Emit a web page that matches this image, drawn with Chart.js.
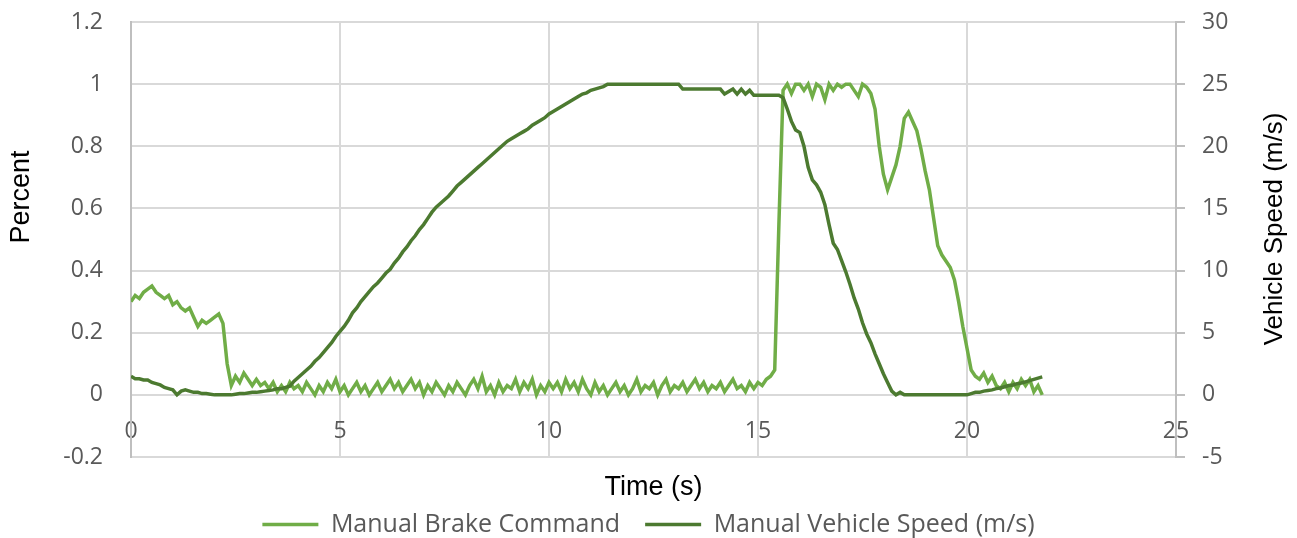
<!DOCTYPE html>
<html>
<head>
<meta charset="utf-8">
<title>Manual brake command and vehicle speed</title>
<script src="https://cdn.jsdelivr.net/npm/chart.js@4.4.0/dist/chart.umd.min.js"></script>
<style>
    html, body { margin: 0; padding: 0; background: #fff; }
    #wrap { width: 1297px; height: 538px; }
</style>
</head>
<body>
<div id="wrap"><canvas id="myChart"></canvas></div>
<script>
// samples every 0.1 s, starting at t = 0
var sampleStep = 0.1;

// Manual Brake Command (percent, left axis), one row per second
var brakeCommand = [
    0.30, 0.32, 0.31, 0.33, 0.34, 0.35, 0.33, 0.32, 0.31, 0.32,
    0.29, 0.30, 0.28, 0.27, 0.28, 0.25, 0.22, 0.24, 0.23, 0.24,
    0.25, 0.26, 0.23, 0.10, 0.03, 0.06, 0.04, 0.07, 0.05, 0.03,
    0.05, 0.03, 0.04, 0.02, 0.04, 0.01, 0.03, 0.01, 0.04, 0.02,
    0.03, 0.01, 0.04, 0.02, 0.00, 0.03, 0.01, 0.04, 0.02, 0.05,
    0.01, 0.03, 0.00, 0.02, 0.04, 0.01, 0.03, 0.00, 0.02, 0.04,
    0.01, 0.03, 0.05, 0.02, 0.04, 0.01, 0.03, 0.05, 0.02, 0.04,
    0.00, 0.03, 0.01, 0.04, 0.02, 0.00, 0.03, 0.01, 0.04, 0.02,
    0.00, 0.03, 0.05, 0.02, 0.06, 0.01, 0.03, 0.00, 0.04, 0.01,
    0.03, 0.02, 0.05, 0.01, 0.04, 0.02, 0.05, 0.00, 0.03, 0.01,
    0.04, 0.02, 0.04, 0.01, 0.05, 0.02, 0.04, 0.01, 0.05, 0.02,
    0.00, 0.04, 0.01, 0.03, 0.00, 0.02, 0.04, 0.01, 0.03, 0.00,
    0.02, 0.05, 0.01, 0.03, 0.02, 0.04, 0.00, 0.03, 0.05, 0.01,
    0.03, 0.02, 0.04, 0.01, 0.03, 0.05, 0.02, 0.04, 0.01, 0.03,
    0.02, 0.04, 0.01, 0.03, 0.05, 0.02, 0.03, 0.01, 0.04, 0.02,
    0.04, 0.03, 0.05, 0.06, 0.08, 0.55, 0.98, 1.00, 0.97, 1.00,
    1.00, 0.98, 1.00, 0.96, 1.00, 0.99, 0.95, 1.00, 0.98, 1.00,
    0.99, 1.00, 1.00, 0.98, 0.96, 1.00, 0.99, 0.97, 0.92, 0.80,
    0.71, 0.66, 0.70, 0.74, 0.80, 0.89, 0.91, 0.88, 0.85, 0.79,
    0.72, 0.66, 0.57, 0.48, 0.45, 0.43, 0.41, 0.37, 0.30, 0.22,
    0.15, 0.08, 0.06, 0.05, 0.07, 0.04, 0.06, 0.03, 0.02, 0.04,
    0.01, 0.04, 0.02, 0.05, 0.03, 0.05, 0.01, 0.03, 0.00
];

// Manual Vehicle Speed (m/s, right axis), one row per second
var vehicleSpeed = [
    1.5, 1.3, 1.3, 1.2, 1.2, 1.0, 0.9, 0.8, 0.6, 0.5,
    0.4, 0.0, 0.3, 0.4, 0.3, 0.2, 0.2, 0.1, 0.1, 0.05,
    0.0, 0.0, 0.0, 0.0, 0.0, 0.05, 0.1, 0.1, 0.15, 0.2,
    0.2, 0.25, 0.3, 0.35, 0.4, 0.5, 0.5, 0.6, 0.7, 1.1,
    1.4, 1.7, 2.0, 2.3, 2.7, 3.0, 3.4, 3.8, 4.2, 4.7,
    5.1, 5.5, 6.0, 6.6, 7.0, 7.5, 7.9, 8.3, 8.7, 9.0,
    9.4, 9.8, 10.1, 10.6, 11.0, 11.5, 11.9, 12.4, 12.8, 13.3,
    13.7, 14.2, 14.7, 15.1, 15.4, 15.7, 16.0, 16.4, 16.8, 17.1,
    17.4, 17.7, 18.0, 18.3, 18.6, 18.9, 19.2, 19.5, 19.8, 20.1,
    20.4, 20.6, 20.8, 21.0, 21.2, 21.4, 21.7, 21.9, 22.1, 22.3,
    22.6, 22.8, 23.0, 23.2, 23.4, 23.6, 23.8, 24.0, 24.2, 24.3,
    24.5, 24.6, 24.7, 24.8, 25.0, 25.0, 25.0, 25.0, 25.0, 25.0,
    25.0, 25.0, 25.0, 25.0, 25.0, 25.0, 25.0, 25.0, 25.0, 25.0,
    25.0, 25.0, 24.6, 24.6, 24.6, 24.6, 24.6, 24.6, 24.6, 24.6,
    24.6, 24.6, 24.2, 24.4, 24.6, 24.2, 24.6, 24.2, 24.5, 24.1,
    24.1, 24.1, 24.1, 24.1, 24.1, 24.1, 23.9, 23.0, 22.0, 21.3,
    21.1, 20.0, 18.3, 17.3, 16.9, 16.3, 15.3, 13.7, 12.2, 11.7,
    10.8, 9.9, 8.9, 7.8, 6.9, 5.8, 4.9, 4.2, 3.3, 2.5,
    1.7, 1.0, 0.3, 0.0, 0.2, 0.0, 0.0, 0.0, 0.0, 0.0,
    0.0, 0.0, 0.0, 0.0, 0.0, 0.0, 0.0, 0.0, 0.0, 0.0,
    0.0, 0.1, 0.2, 0.2, 0.3, 0.35, 0.4, 0.5, 0.55, 0.65,
    0.75, 0.8, 0.9, 0.95, 1.05, 1.15, 1.25, 1.35, 1.45
];

var seriesNames = ['Manual Brake Command', 'Manual Vehicle Speed (m/s)'];
var timeTicks = [0, 5, 10, 15, 20, 25];
var percentTicks = [-0.2, 0, 0.2, 0.4, 0.6, 0.8, 1, 1.2];
var speedTicks = [-5, 0, 5, 10, 15, 20, 25, 30];
var axisTitles = { x: 'Time (s)', y: 'Percent', y1: 'Vehicle Speed (m/s)' };

function toPoints(values) {
    return values.map(function (v, i) {
        return { x: +(i * sampleStep).toFixed(1), y: v };
    });
}

function fixedTicks(list) {
    return function (scale) {
        scale.ticks = list.map(function (v) { return { value: v }; });
    };
}

// fixed side width, and no extra top/bottom room for the end labels
function fixedWidth(w) {
    return function (scale) {
        scale.width = w;
        scale.paddingTop = 0;
        scale.paddingBottom = 0;
    };
}

var tickFont = { family: "'Open Sans'", size: 23 };
var titleFont = "'Liberation Sans', Arial, sans-serif";

// Excel puts the vertical titles a bit off-centre and reads both bottom-to-top
var verticalTitles = {
    id: 'verticalTitles',
    afterDraw: function (chart) {
        var ctx = chart.ctx;
        ctx.save();
        ctx.fillStyle = '#000';
        ctx.textAlign = 'center';
        ctx.textBaseline = 'middle';

        ctx.font = '27px ' + titleFont;
        ctx.save();
        ctx.translate(22, 197);
        ctx.rotate(-Math.PI / 2);
        ctx.fillText(axisTitles.y, 0, 0);
        ctx.restore();

        ctx.font = '26px ' + titleFont;
        ctx.translate(1275, 229);
        ctx.rotate(-Math.PI / 2);
        ctx.fillText(axisTitles.y1, 0, 0);
        ctx.restore();
    }
};

new Chart(document.getElementById('myChart'), {
    type: 'line',
    data: {
        datasets: [{
            label: seriesNames[0],
            data: toPoints(brakeCommand),
            yAxisID: 'y',
            borderColor: '#70ad47',
            backgroundColor: '#70ad47',
            borderWidth: 3.5,
            pointRadius: 0,
            order: 1
        }, {
            label: seriesNames[1],
            data: toPoints(vehicleSpeed),
            yAxisID: 'y1',
            borderColor: '#4c7a30',
            backgroundColor: '#4c7a30',
            borderWidth: 3.5,
            pointRadius: 0,
            order: 0
        }]
    },
    options: {
        responsive: true,
        maintainAspectRatio: false,
        animation: false,
        layout: {
            padding: { top: 22, bottom: -9, left: 0, right: 0 }
        },
        plugins: {
            tooltip: { enabled: false },
            legend: {
                position: 'bottom',
                labels: {
                    usePointStyle: true,
                    pointStyle: 'line',
                    pointStyleWidth: 56,
                    padding: 25,
                    color: '#595959',
                    font: { family: "'Open Sans'", size: 25 },
                    sort: function (a, b) { return a.datasetIndex - b.datasetIndex; }
                }
            }
        },
        scales: {
            x: {
                type: 'linear',
                position: { y: 0 },
                min: 0,
                max: 25,
                afterBuildTicks: fixedTicks(timeTicks),
                ticks: { color: '#595959', font: tickFont, padding: 23, maxRotation: 0 },
                grid: { color: '#d9d9d9', lineWidth: 2, drawTicks: false },
                border: { display: false }
            },
            // empty axis only holds the "Time (s)" title under the plot
            xTitle: {
                type: 'linear',
                axis: 'x',
                position: 'bottom',
                min: 0,
                max: 25,
                afterFit: function (scale) { scale.height = 30; },
                ticks: { display: false },
                grid: { display: false },
                border: { display: false },
                title: {
                    display: true,
                    text: axisTitles.x,
                    color: '#000',
                    font: { family: titleFont, size: 27 },
                    padding: { top: 0, bottom: -17 }
                }
            },
            y: {
                position: 'left',
                min: -0.2,
                max: 1.2,
                afterBuildTicks: fixedTicks(percentTicks),
                afterFit: fixedWidth(131),
                ticks: {
                    color: '#595959',
                    font: tickFont,
                    padding: 28,
                    callback: function (v) { return String(parseFloat(v.toFixed(1))); }
                },
                grid: { color: '#d9d9d9', lineWidth: 2, drawTicks: false },
                border: { color: '#bfbfbf', width: 2 }
            },
            y1: {
                position: 'right',
                min: -5,
                max: 30,
                afterBuildTicks: fixedTicks(speedTicks),
                afterFit: fixedWidth(121),
                ticks: { color: '#595959', font: tickFont, padding: 17 },
                grid: {
                    drawOnChartArea: false,
                    drawTicks: true,
                    tickLength: 9,
                    tickColor: '#bfbfbf',
                    tickWidth: 2,
                    lineWidth: 2
                },
                border: { color: '#bfbfbf', width: 2 }
            }
        }
    },
    plugins: [verticalTitles]
});
</script>
</body>
</html>
